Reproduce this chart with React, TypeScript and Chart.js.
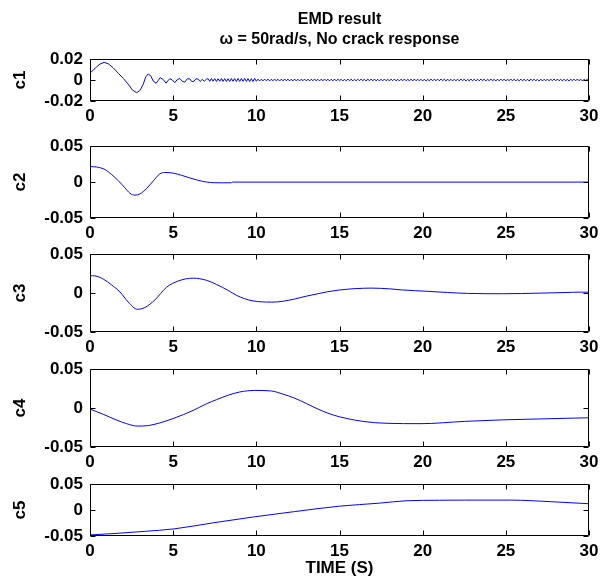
import React, { useEffect, useRef } from "react";
import { Chart, registerables } from "chart.js";

Chart.register(...registerables);

// ---------- data ----------
const titleLines = ["EMD result", "ω = 50rad/s, No crack response"];
const xAxisTitle = "TIME (S)";
const seriesNames = ["c1", "c2", "c3", "c4", "c5"];

const xTicks = [0, 5, 10, 15, 20, 25, 30];
const xTickLabels = ["0", "5", "10", "15", "20", "25", "30"];
const c1Ticks = [-0.02, 0, 0.02];
const c1TickLabels = ["-0.02", "0", "0.02"];
const cTicks = [-0.05, 0, 0.05];
const cTickLabels = ["-0.05", "0", "0.05"];

const c1HeadTime = [0, 0.2, 0.4, 0.6, 0.85, 1.1, 1.4, 1.7, 2.0, 2.3, 2.55, 2.8, 3.0, 3.2, 3.35, 3.5, 3.65, 3.8, 3.97, 4.1, 4.22, 4.4, 4.57, 4.7, 4.8, 4.95, 5.1, 5.25, 5.4, 5.55, 5.7, 5.85, 6.0, 6.12, 6.25, 6.37, 6.5, 6.62, 6.75, 6.87, 7.0];
const c1HeadValues = [0.0065, 0.0095, 0.0125, 0.0152, 0.0168, 0.0155, 0.0115, 0.0065, 0.0015, -0.004, -0.0095, -0.0121, -0.01, -0.004, 0.003, 0.0057, 0.004, -0.001, -0.0031, -0.0005, 0.0022, 0.0005, -0.003, -0.0005, 0.0013, 0, -0.0025, 0.0005, 0.0014, -0.0012, -0.002, 0.0012, 0.001, -0.0015, -0.0012, 0.0012, 0.0008, -0.0014, 0.0006, -0.0012, 0.0008];
const c1TailStart = 7.1;
const c1TailStep = 0.1;
const c1TailValues = [
  0.0012, -0.0013, 0.0014, -0.0011, 0.0013, -0.0014, 0.0012, -0.0012, 0.0014, -0.0013,
  0.0013, -0.0015, 0.0012, -0.0014, 0.0015, -0.0012, 0.0013, -0.0015, 0.0014, -0.0013,
  0.0014, -0.0012, 0.0015, -0.0014, 0.0012, -0.0015, 0.0013, -0.0014, 0.0015, -0.0012,
  0.0008, -0.0009, 0.0007, -0.0008, 0.0009, -0.0007, 0.0008, -0.0009, 0.0008, -0.0007,
  0.0009, -0.0008, 0.0007, -0.0009, 0.0008, -0.0008, 0.0009, -0.0007, 0.0008, -0.0009,
  0.0007, -0.0008, 0.0009, -0.0008, 0.0007, -0.0009, 0.0008, -0.0007, 0.0009, -0.0008,
  0.0008, -0.0009, 0.0008, -0.0007, 0.0009, -0.0008, 0.0007, -0.0009, 0.0008, -0.0008,
  0.0009, -0.0007, 0.0008, -0.0009, 0.0007, -0.0008, 0.0009, -0.0008, 0.0008, -0.0007,
  0.0007, -0.0009, 0.0008, -0.0008, 0.0009, -0.0007, 0.0008, -0.0009, 0.0007, -0.0008,
  0.0008, -0.0008, 0.0009, -0.0007, 0.0008, -0.0009, 0.0008, -0.0007, 0.0009, -0.0008,
  0.0009, -0.0008, 0.0007, -0.0009, 0.0008, -0.0008, 0.0009, -0.0007, 0.0008, -0.0009,
  0.0008, -0.0007, 0.0009, -0.0008, 0.0007, -0.0009, 0.0008, -0.0008, 0.0009, -0.0007,
  0.0007, -0.0008, 0.0008, -0.0009, 0.0009, -0.0007, 0.0008, -0.0008, 0.0007, -0.0009,
  0.0008, -0.0009, 0.0007, -0.0008, 0.0009, -0.0008, 0.0008, -0.0007, 0.0009, -0.0008,
  0.0009, -0.0007, 0.0008, -0.0009, 0.0008, -0.0008, 0.0007, -0.0009, 0.0008, -0.0007,
  0.0008, -0.0008, 0.0009, -0.0007, 0.0008, -0.0009, 0.0007, -0.0008, 0.0009, -0.0008,
  0.0007, -0.0009, 0.0008, -0.0008, 0.0009, -0.0007, 0.0008, -0.0009, 0.0008, -0.0007,
  0.0009, -0.0008, 0.0007, -0.0009, 0.0008, -0.0008, 0.0009, -0.0007, 0.0008, -0.0009,
  0.0008, -0.0007, 0.0009, -0.0008, 0.0008, -0.0009, 0.0007, -0.0008, 0.0009, -0.0008,
  0.0007, -0.0008, 0.0008, -0.0009, 0.0009, -0.0007, 0.0008, -0.0008, 0.0007, -0.0009,
  0.0008, -0.0009, 0.0007, -0.0008, 0.0009, -0.0008, 0.0008, -0.0007, 0.0009, -0.0008,
  0.0009, -0.0007, 0.0008, -0.0009, 0.0008, -0.0008, 0.0007, -0.0009, 0.0008, -0.0007,
  0.0008, -0.0008, 0.0009, -0.0007, 0.0008, -0.0009, 0.0007, -0.0008, 0.0009, 0.0002,
];

const c2Time = [0, 0.4, 0.9, 1.3, 1.7, 2.1, 2.4, 2.7, 3.0, 3.4, 3.8, 4.2, 4.5, 5.0, 5.5, 6.0, 6.5, 7.0, 7.5, 8.0, 8.5, 8.55, 30];
const c2Values = [0.0217, 0.021, 0.0175, 0.0105, 0.002, -0.008, -0.0155, -0.0182, -0.0165, -0.009, 0.0015, 0.0115, 0.0134, 0.0125, 0.0095, 0.0058, 0.0025, 0.0001, -0.0009, -0.001, -0.0009, 0, 0];

const c3Time = [0, 0.3, 0.8, 1.3, 1.8, 2.3, 2.85, 3.3, 3.9, 4.6, 5.3, 6.2, 7.0, 7.6, 8.3, 8.8, 9.3, 9.8, 10.9, 11.6, 12.3, 13.0, 13.7, 14.3, 15, 16, 16.9, 18, 18.8, 20.2, 21.5, 22.7, 24.8, 27.1, 28.5, 29.5, 30];
const c3Values = [0.0224, 0.0221, 0.018, 0.0105, 0.0015, -0.0115, -0.0208, -0.0185, -0.0088, 0.0075, 0.0155, 0.0192, 0.0165, 0.0112, 0.0035, -0.0028, -0.0072, -0.01, -0.0116, -0.0105, -0.0076, -0.004, -0.0008, 0.0018, 0.004, 0.0058, 0.0064, 0.0055, 0.004, 0.0024, 0.0008, -0.0004, -0.0008, 0, 0.0007, 0.0012, 0.0012];

const c4Time = [0, 0.8, 1.56, 2.2, 2.84, 3.5, 4.2, 5.05, 6.2, 7.0, 7.6, 8.3, 9.0, 9.9, 10.9, 11.6, 12.3, 13.0, 13.7, 14.3, 15.0, 16.4, 17.8, 19.9, 22.5, 24.8, 27.1, 30];
const c4Values = [-0.0012, -0.008, -0.015, -0.02, -0.0231, -0.0225, -0.019, -0.013, -0.003, 0.0055, 0.0108, 0.0165, 0.0207, 0.0227, 0.022, 0.018, 0.0128, 0.006, -0.0012, -0.0065, -0.0112, -0.0171, -0.0195, -0.02, -0.0171, -0.0151, -0.0139, -0.0124];

const c5Time = [0, 1.56, 3.3, 5.05, 7.4, 9.9, 12.3, 15, 17.4, 19, 21, 22.5, 25.3, 27.6, 30];
const c5Values = [-0.048, -0.045, -0.041, -0.0363, -0.0246, -0.0129, -0.0029, 0.0076, 0.0134, 0.018, 0.019, 0.0193, 0.0193, 0.0164, 0.0123];

// ---------- helpers ----------
const FONT = "'Liberation Sans', Arial, Helvetica, sans-serif";

function pairs(t: number[], v: number[]) {
  return t.map((x, i) => ({ x, y: v[i] }));
}

function c1Points() {
  const head = pairs(c1HeadTime, c1HeadValues);
  const tail = c1TailValues.map((y, i) => ({ x: +(c1TailStart + i * c1TailStep).toFixed(2), y }));
  return head.concat(tail);
}

const boxPlugin = {
  id: "matlabBox",
  afterDraw(chart: any) {
    const { ctx, chartArea } = chart;
    const { left, right, top, bottom } = chartArea;
    const xs = chart.scales.x;
    const ys = chart.scales.y;
    const L = Math.round(left) + 0.5;
    const R = Math.round(right) - 0.5;
    const T = Math.round(top) + 0.5;
    const B = Math.round(bottom) - 0.5;
    ctx.save();
    ctx.strokeStyle = "#000";
    ctx.lineWidth = 1;
    ctx.beginPath();
    ctx.rect(L, T, R - L, B - T);
    const tl = 5;
    xs.ticks.forEach((t: any) => {
      const px = Math.round(xs.getPixelForValue(t.value)) + 0.5;
      ctx.moveTo(px, B);
      ctx.lineTo(px, B - tl);
      ctx.moveTo(px, T);
      ctx.lineTo(px, T + tl);
    });
    ys.ticks.forEach((t: any) => {
      const py = Math.round(ys.getPixelForValue(t.value)) + 0.5;
      ctx.moveTo(L, py);
      ctx.lineTo(L + tl, py);
      ctx.moveTo(R, py);
      ctx.lineTo(R - tl, py);
    });
    ctx.stroke();
    ctx.restore();
  },
};

type Panel = {
  name: string;
  points: { x: number; y: number }[];
  yTicks: number[];
  yLabels: string[];
  canvasTop: number;
  canvasHeight: number;
  padTop: number;
  axisHeight: number;
  showTitle: boolean;
  showXTitle: boolean;
  smooth: boolean;
};

const W = 607;
const panels: Panel[] = [
  { name: seriesNames[0], points: c1Points(), yTicks: c1Ticks, yLabels: c1TickLabels, canvasTop: 0, canvasHeight: 127, padTop: 0, axisHeight: 26, showTitle: true, showXTitle: false, smooth: false },
  { name: seriesNames[1], points: pairs(c2Time, c2Values), yTicks: cTicks, yLabels: cTickLabels, canvasTop: 129, canvasHeight: 115, padTop: 12, axisHeight: 26, showTitle: false, showXTitle: false, smooth: true },
  { name: seriesNames[2], points: pairs(c3Time, c3Values), yTicks: cTicks, yLabels: cTickLabels, canvasTop: 237, canvasHeight: 121, padTop: 12, axisHeight: 26, showTitle: false, showXTitle: false, smooth: true },
  { name: seriesNames[3], points: pairs(c4Time, c4Values), yTicks: cTicks, yLabels: cTickLabels, canvasTop: 352, canvasHeight: 121, padTop: 12, axisHeight: 26, showTitle: false, showXTitle: false, smooth: true },
  { name: seriesNames[4], points: pairs(c5Time, c5Values), yTicks: cTicks, yLabels: cTickLabels, canvasTop: 467, canvasHeight: 112, padTop: 12, axisHeight: 43, showTitle: false, showXTitle: true, smooth: true },
];

function makeConfig(p: Panel): any {
  const font = { family: FONT, size: 17, weight: "bold" as const };
  const titleFont = { family: FONT, size: 16, weight: "bold" as const, lineHeight: 1.25 };
  return {
    type: "line",
    data: {
      datasets: [
        {
          data: p.points,
          borderColor: "#0000ff",
          borderWidth: 1,
          pointRadius: 0,
          fill: false,
          tension: 0,
          cubicInterpolationMode: p.smooth ? "monotone" : "default",
        },
      ],
    },
    options: {
      animation: false,
      responsive: false,
      events: [],
      layout: { padding: { top: p.padTop, right: 18, left: 0, bottom: 0 } },
      plugins: {
        legend: { display: false },
        tooltip: { enabled: false },
        title: {
          display: p.showTitle,
          text: titleLines,
          fullSize: false,
          color: "#000",
          font: titleFont,
          padding: { top: 10, bottom: 9 },
        },
      },
      scales: {
        x: {
          type: "linear",
          min: 0,
          max: 30,
          afterBuildTicks: (s: any) => {
            s.ticks = xTicks.map((v) => ({ value: v }));
          },
          afterFit: (s: any) => {
            s.height = p.axisHeight;
          },
          ticks: {
            autoSkip: false,
            maxRotation: 0,
            minRotation: 0,
            padding: 5,
            color: "#000",
            font,
            callback: (_v: any, i: number) => xTickLabels[i],
          },
          grid: { display: false, drawTicks: false, tickLength: 0 },
          border: { display: false },
          title: {
            display: p.showXTitle,
            text: xAxisTitle,
            color: "#000",
            font,
            padding: { top: 0, bottom: 0 },
          },
        },
        y: {
          type: "linear",
          min: p.yTicks[0],
          max: p.yTicks[p.yTicks.length - 1],
          afterBuildTicks: (s: any) => {
            s.ticks = p.yTicks.map((v) => ({ value: v }));
          },
          afterFit: (s: any) => {
            s.width = 90;
          },
          ticks: {
            autoSkip: false,
            padding: 7,
            color: "#000",
            font,
            callback: (_v: any, i: number) => p.yLabels[i],
          },
          grid: { display: false, drawTicks: false, tickLength: 0 },
          border: { display: false },
          title: {
            display: true,
            text: p.name,
            color: "#000",
            font,
            padding: { top: 10, bottom: 0 },
          },
        },
      },
    },
    plugins: [boxPlugin],
  };
}

export default function App() {
  const refs = useRef<(HTMLCanvasElement | null)[]>([]);

  useEffect(() => {
    const charts = panels.map((p, i) => {
      const c = refs.current[i]!;
      return new Chart(c, makeConfig(p));
    });
    return () => charts.forEach((c) => c.destroy());
  }, []);

  return (
    <div
      style={{
        position: "fixed",
        left: 0,
        top: 0,
        width: W,
        height: 579,
        overflow: "hidden",
        background: "#fff",
      }}
    >
      {panels.map((p, i) => (
        <canvas
          key={p.name}
          ref={(el) => {
            refs.current[i] = el;
          }}
          width={W}
          height={p.canvasHeight}
          style={{
            position: "absolute",
            left: 0,
            top: p.canvasTop,
            width: W,
            height: p.canvasHeight,
          }}
        />
      ))}
    </div>
  );
}
